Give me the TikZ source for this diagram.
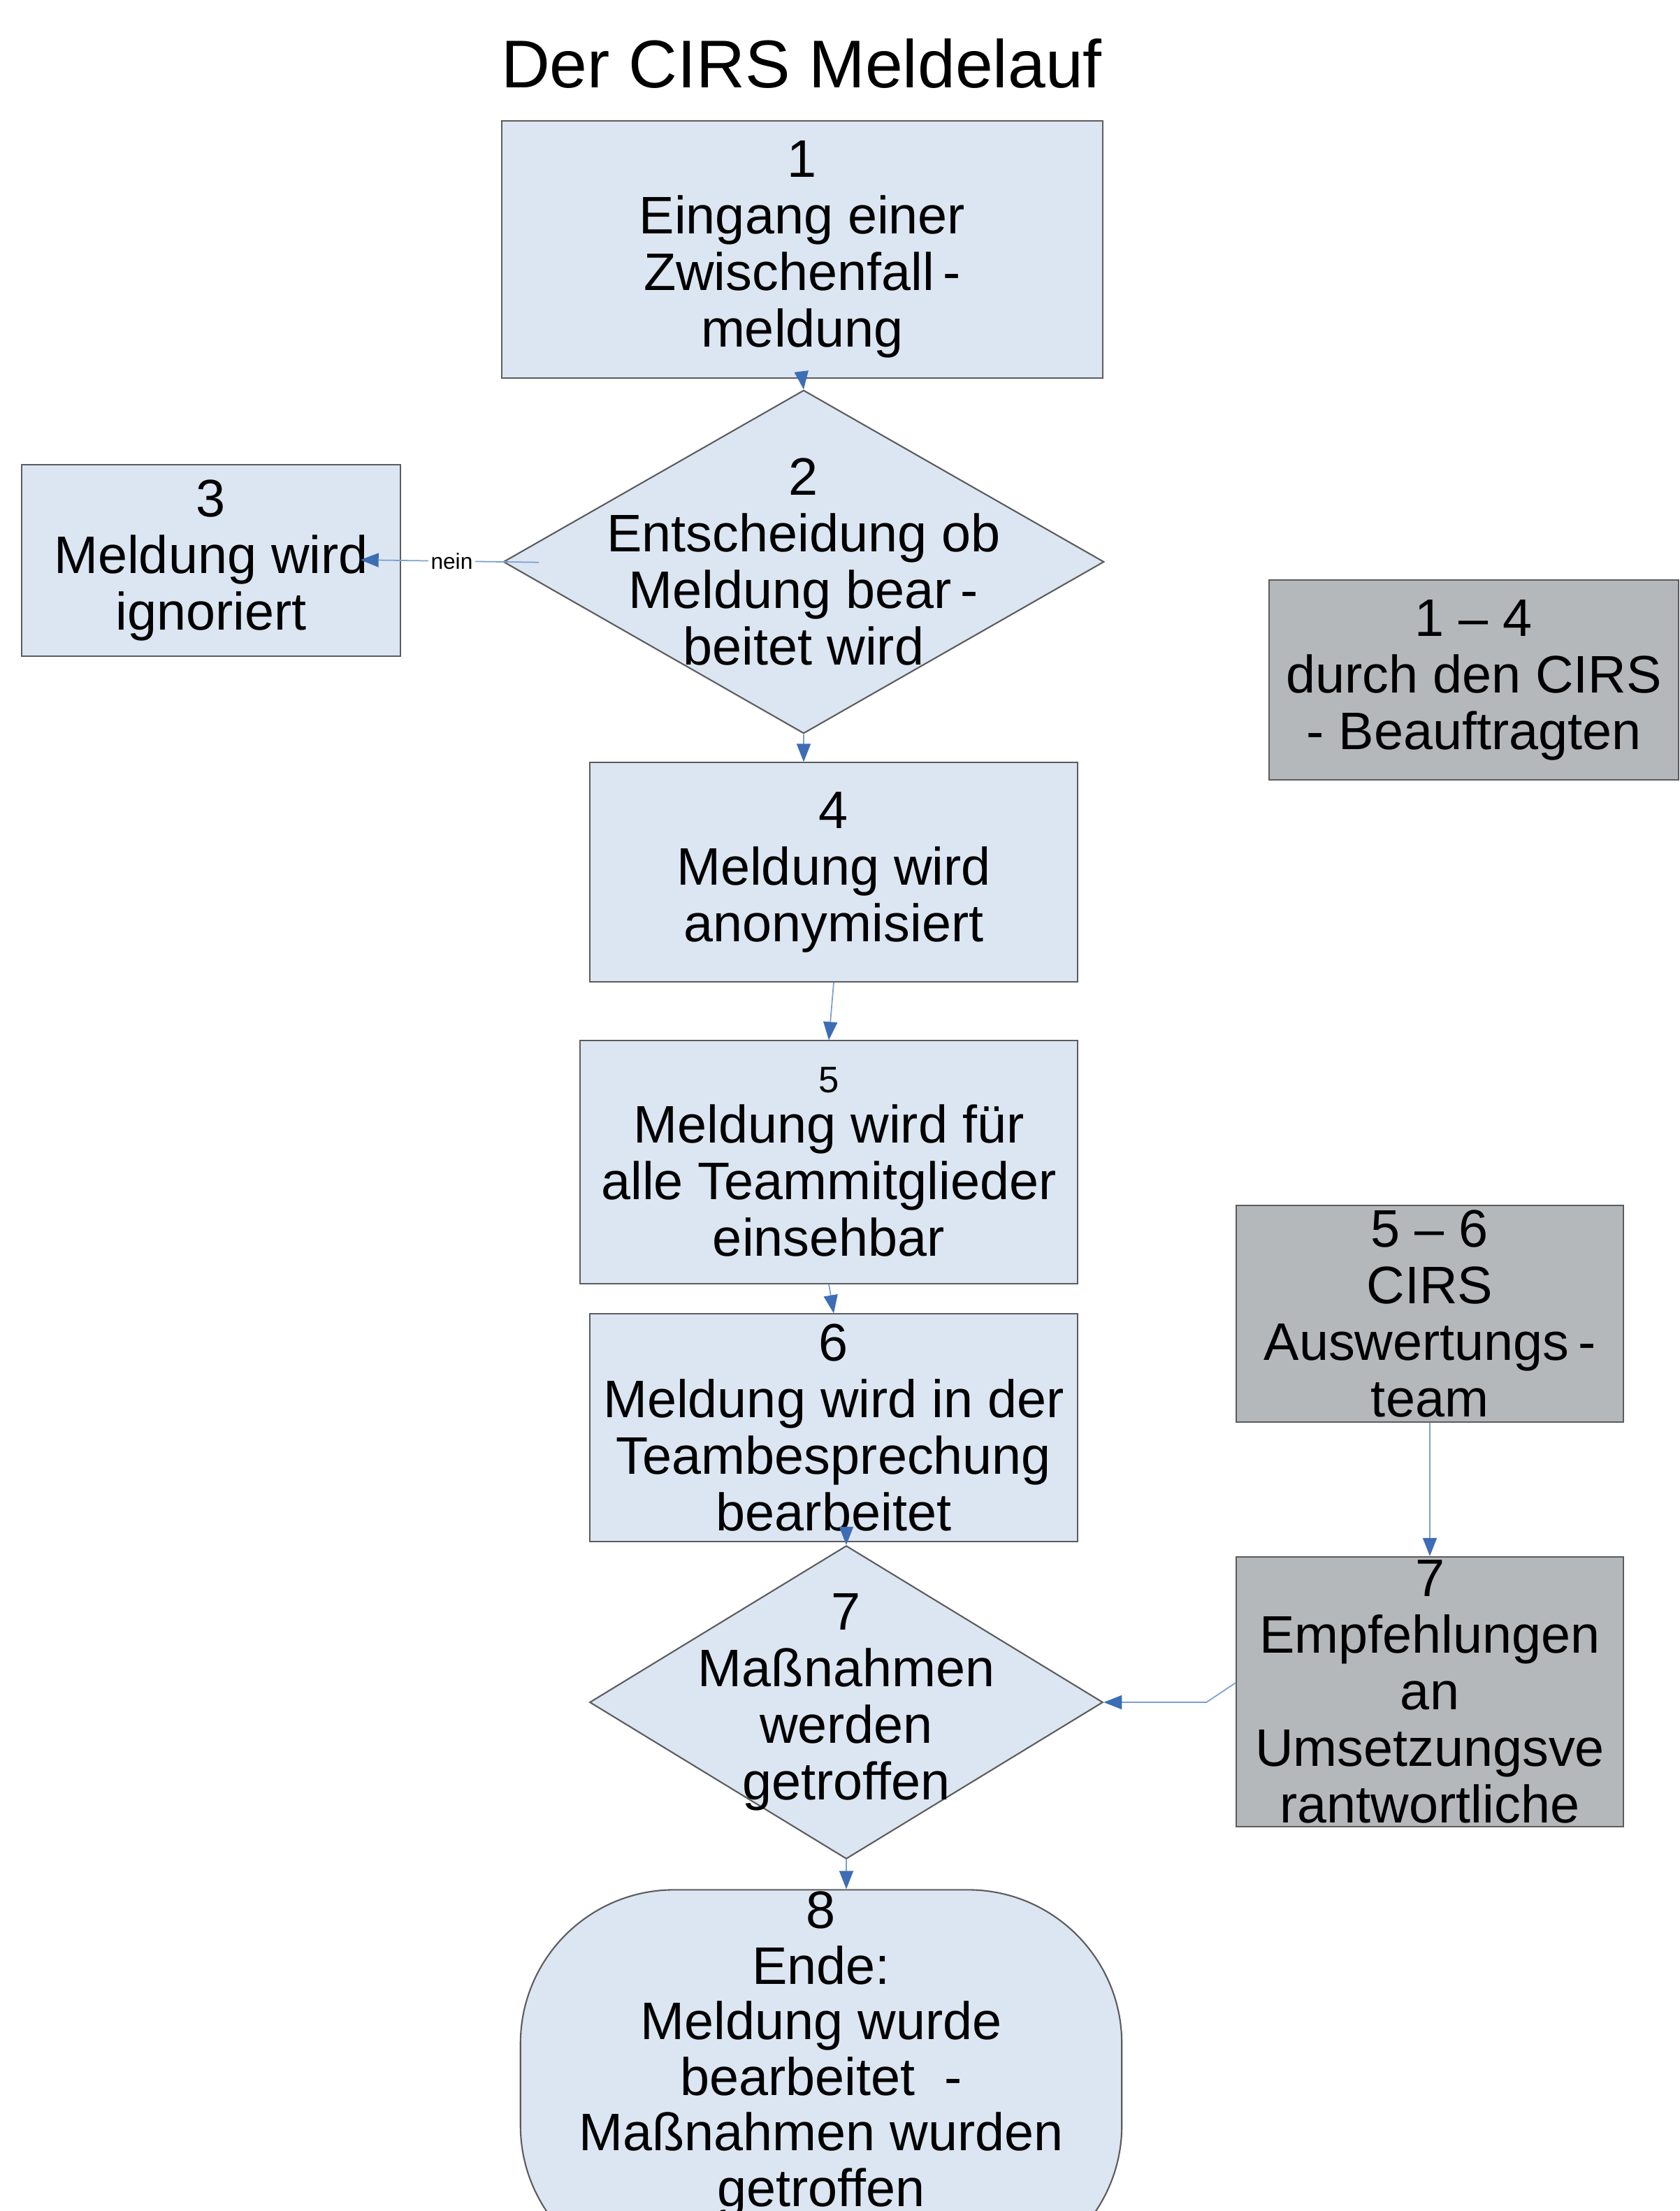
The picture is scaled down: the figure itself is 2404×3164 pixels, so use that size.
\documentclass[tikz,border=0pt]{standalone}
\usepackage{fontspec}
\setmainfont{Liberation Sans}
\usepackage{tikz}
\usetikzlibrary{shapes.geometric, arrows.meta, positioning, calc}
\definecolor{boxblue}{HTML}{DCE6F2}
\definecolor{boxgrey}{HTML}{B5B8BA}
\definecolor{edgegrey}{HTML}{5C5C5C}
\definecolor{linkblue}{HTML}{7C9FCF}
\definecolor{tipblue}{HTML}{3D6DB5}
\newcommand{\flowfont}{\fontsize{21.5}{23}\selectfont}
\tikzset{
  % Process steps
  procbox/.style={
    rectangle, draw=edgegrey, fill=#1, text=black, font=\flowfont,
    align=center, inner sep=0.5pt, line width=0.6pt,
  },
  procbox/.default={boxblue},
  % Notes on the right (who does what)
  notebox/.style={procbox=boxgrey},
  % Decisions
  decisionbox/.style={
    diamond, draw=edgegrey, fill=boxblue, inner sep=0pt, line width=0.6pt,
  },
  % End of the flow
  endbox/.style={
    rectangle, rounded corners=2.2cm, draw=edgegrey, fill=boxblue,
    inner sep=0pt, line width=0.6pt,
  },
  % Text set into the shapes
  shapetext/.style={font=\flowfont, align=center, inner sep=0pt, text=black},
  % Arrows
  flowarrow/.style={-{Triangle[length=0.26cm, width=0.2cm, color=tipblue]}, draw=linkblue, line width=0.5pt},
  % Labels on arrows
  arrlabel/.style={font=\fontsize{9}{10}\selectfont, fill=white, inner sep=1pt, text=black},
}
\begin{document}
\begin{tikzpicture}[x=0.01cm, y=-0.01cm]
  \useasboundingbox (0,0) rectangle (2404,3164);
  \clip (0,0) rectangle (2404,3164);
  % Title
  \node[font=\fontsize{27.5}{30}\selectfont] (title) at (1147,91) {Der CIRS Meldelauf};

  % Nodes
  \node[procbox, minimum width=8.59cm, minimum height=3.67cm] (b1) at (1148,357) {
    1\\Eingang einer\\Zwischenfall\,-\\meldung
  };
  \node[decisionbox, minimum width=8.59cm, minimum height=4.91cm,
        label={[shapetext]center:{2\\Entscheidung ob\\Meldung bear\,-\\beitet wird}}] (d2) at (1150,804) {};
  \node[procbox, minimum width=5.41cm, minimum height=2.73cm] (b3) at (302,802) {
    3\\Meldung wird\\ignoriert
  };
  \node[procbox, minimum width=6.98cm, minimum height=3.13cm] (b4) at (1193,1248) {
    4\\Meldung wird\\anonymisiert
  };
  \node[procbox, minimum width=7.12cm, minimum height=3.47cm] (b5) at (1186,1663) {
    {\fontsize{15}{16}\selectfont 5}\\[-2.5pt]Meldung wird für\\alle Teammitglieder\\einsehbar
  };
  \node[procbox, minimum width=6.98cm, minimum height=3.25cm] (b6) at (1193,2043) {
    6\\Meldung wird in der\\Teambesprechung\\bearbeitet
  };
  \node[decisionbox, minimum width=7.34cm, minimum height=4.48cm,
        label={[shapetext]center:{7\\Maßnahmen\\werden\\getroffen}}] (d7) at (1211,2436) {};
  \node[endbox, minimum width=8.60cm, minimum height=5.57cm,
        label={[shapetext, font=\fontsize{21.5}{22.6}\selectfont, anchor=north, yshift=-0.03cm]north:{8\\Ende:\\Meldung wurde\\bearbeitet\ \ -\\Maßnahmen wurden\\getroffen}}] (b8) at (1175,2983) {};

  % Who is responsible
  \node[notebox, minimum width=5.85cm, minimum height=2.86cm] (g14) at (2109,973) {
    1 – 4\\durch den CIRS\\- Beauftragten
  };
  \node[notebox, minimum width=5.53cm, minimum height=3.09cm] (g56) at (2046,1880) {
    5 – 6\\CIRS\\Auswertungs\,-\\team
  };
  \node[notebox, minimum width=5.53cm, minimum height=3.86cm] (g7) at (2046,2421) {
    7\\Empfehlungen\\an\\Umsetzungsve\\rantwortliche
  };

  % Arrows
  \draw[flowarrow] (b1.south) -- (d2.north);
  \draw[flowarrow, shorten <=-0.52cm, shorten >=-0.58cm] (d2.west) -- (b3.east)
    node[arrlabel, midway] {nein};
  \draw[flowarrow] (d2.south) -- (d2.south |- b4.north);
  \draw[flowarrow] (b4.south) -- (b5.north);
  \draw[flowarrow] (b5.south) -- (b6.north);
  \draw[flowarrow] (d7.north |- b6.south) -- (d7.north);
  \draw[flowarrow] (d7.south) -- (d7.south |- b8.north);
  \draw[flowarrow] (g56.south) -- (g7.north);
  \draw[flowarrow] ([yshift=0.13cm]g7.west) -- ++(-42,28) -- (d7.east);
\end{tikzpicture}
\end{document}
